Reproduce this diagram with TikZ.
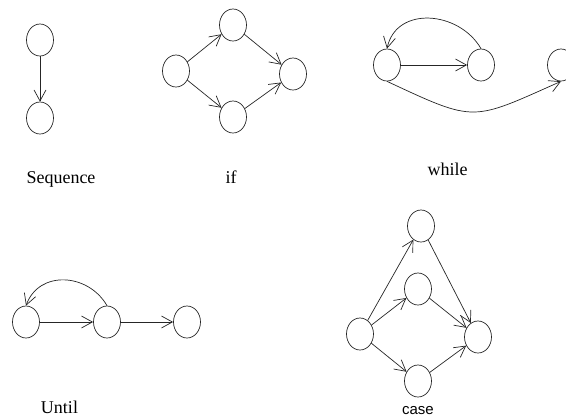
\documentclass[tikz,border=0pt]{standalone}
\usepackage{fontspec}
\setmainfont{Liberation Serif}
\newfontfamily\casefont{Liberation Sans}
\usetikzlibrary{shapes.geometric,arrows.meta}

\begin{document}
\begin{tikzpicture}[x=1pt, y=-1pt, font=\fontsize{18}{20}\selectfont]

%% ── shared styles ─────────────────────────────────────────────────────────
\tikzset{
  st/.style={
    ellipse, draw=black!85, line width=0.7pt,
    minimum width=27pt, minimum height=32pt, inner sep=0pt
  },
  arr/.style={-{Straight Barb[length=11pt, width=12pt]}, line width=0.7pt, black!85},
  lbl/.style={anchor=base},
}

\useasboundingbox (0,0) rectangle (566,418);

%% ── column x-centres ──────────────────────────────────────────────────────
\def\cA{40}
\def\cB{176}
\def\cC{387}

%% ══════════════════════════════════════════════════════════════════════════
%% Sequence
%% ══════════════════════════════════════════════════════════════════════════
\node[st] (Sq1) at (\cA, 40)  {};
\node[st] (Sq2) at (\cA,118)  {};
\node[lbl] (SqL) at (61,183)  {Sequence};

\draw[arr] (Sq1)--(Sq2);

%% ══════════════════════════════════════════════════════════════════════════
%% if
%% ══════════════════════════════════════════════════════════════════════════
\node[st] (If1) at (\cB, 71)  {};
\node[st] (If2) at (233, 25)  {};
\node[st] (If3) at (233,117)  {};
\node[st] (If4) at (293, 74)  {};
\node[lbl] (IfL) at (231,183) {if};

\draw[arr] (If1)--(If2);
\draw[arr] (If1)--(If3);
\draw[arr] (If2)--(If4);
\draw[arr] (If3)--(If4);

%% ══════════════════════════════════════════════════════════════════════════
%% while
%% ══════════════════════════════════════════════════════════════════════════
\node[st] (Wh1) at (\cC, 65)  {};
\node[st] (Wh2) at (481, 65)  {};
\node[st] (Wh3) at (561, 65)  {};
\node[lbl] (WhL) at (447.5,175) {while};

\draw[arr] (Wh1)--(Wh2);
\draw[arr] (Wh2.north) to[out=120, in=78, looseness=1.2] (Wh1.north);
\draw[arr] (Wh1.south) to[out=-25, in=-156, looseness=1.45] (Wh3.south);

%% ══════════════════════════════════════════════════════════════════════════
%% Until
%% ══════════════════════════════════════════════════════════════════════════
\node[st] (Un1) at (26,322)   {};
\node[st] (Un2) at (107,322)  {};
\node[st] (Un3) at (187,322)  {};
\node[lbl] (UnL) at (59.5,413) {Until};

\draw[arr] (Un1)--(Un2);
\draw[arr] (Un2)--(Un3);
\draw[arr] (Un2.north) to[out=120, in=70, looseness=1.2] (Un1.north);

%% ══════════════════════════════════════════════════════════════════════════
%% case
%% ══════════════════════════════════════════════════════════════════════════
\node[st] (Cs1) at (360,334)  {};
\node[st] (Cs2) at (421,226)  {};
\node[st] (Cs3) at (418,289)  {};
\node[st] (Cs4) at (418,381)  {};
\node[st] (Cs5) at (478,337)  {};
\node[lbl, font=\casefont\fontsize{15}{17}\selectfont] (CsL) at (418,414) {case};

\draw[arr] (Cs1)--(Cs2);
\draw[arr] (Cs1)--(Cs3);
\draw[arr] (Cs1)--(Cs4);
\draw[arr] (Cs2)--(Cs5);
\draw[arr] (Cs3)--(Cs5);
\draw[arr] (Cs4)--(Cs5);

\end{tikzpicture}
\end{document}
